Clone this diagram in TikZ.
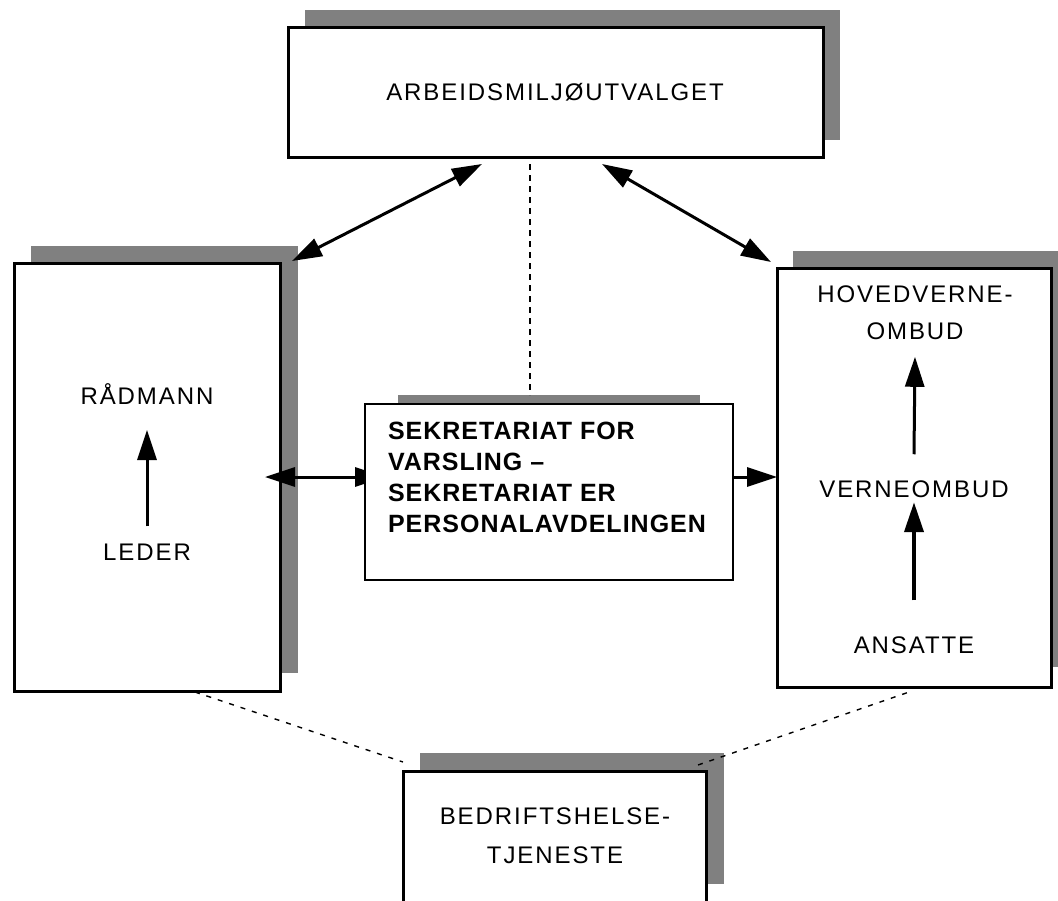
\documentclass[tikz,border=0pt]{standalone}
\usepackage{fontspec}
\setmainfont{Liberation Sans}
\usetikzlibrary{arrows.meta}
\definecolor{shadowgray}{RGB}{128,128,128}
\pgfdeclarelayer{boxlayer}
\pgfsetlayers{main,boxlayer}
\begin{document}
\begin{tikzpicture}[x=1pt,y=-1pt,
  shadowfill/.style={fill=shadowgray},
  box/.style={draw=black, fill=white, line width=3pt, rectangle, outer sep=0pt, inner sep=0pt},
  thinbox/.style={box, line width=1.5pt},
  lbl/.style={inner sep=0pt, outer sep=0pt, font=\fontsize{24}{28}\selectfont\addfontfeatures{LetterSpace=8}},
  boldlbl/.style={inner sep=0pt, outer sep=0pt, align=left, font=\fontsize{25}{31}\selectfont\bfseries\addfontfeatures{LetterSpace=4}},
  conn/.style={line width=3pt, >={Triangle[length=30pt,width=19pt]}},
  thickconn/.style={line width=4pt, >={Triangle[length=30pt,width=19pt]}},
  dashline/.style={line width=1.4pt, dash pattern=on 5pt off 7pt},
  vdash/.style={line width=1.2pt, dash pattern=on 6pt off 5pt}]
\useasboundingbox (0,0) rectangle (1058,900);
\clip (0,0) rectangle (1058,900);
% shadows
\fill[shadowfill] (305,10) rectangle (840,140);
\fill[shadowfill] (31,246) rectangle (298,673);
\fill[shadowfill] (793,251) rectangle (1068,667);
\fill[shadowfill] (398,395) rectangle (700,570);
\fill[shadowfill] (420,753) rectangle (724,884);
% boxes
\node[box, minimum width=535pt, minimum height=130pt] (top) at (555.5,92) {};
\node[box, minimum width=266pt, minimum height=428pt] (left) at (147,477) {};
\node[box, minimum width=274pt, minimum height=419pt] (right) at (914,477.5) {};
\node[box, minimum width=303pt, minimum height=139pt] (bottom) at (554.5,840.5) {};
\begin{pgfonlayer}{boxlayer}
\node[thinbox, minimum width=368pt, minimum height=176pt] (mid) at (549,492) {};
\node[boldlbl, anchor=north west] (sek) at (388,422) {SEKRETARIAT FOR\\VARSLING –\\SEKRETARIAT ER\\PERSONALAVDELINGEN};
\end{pgfonlayer}
% connectors
\draw[conn,<->] ([xshift=-73.5pt,yshift=-7pt]top.south) -- ([xshift=12pt,yshift=2pt]left.north east);
\draw[conn,<->] ([xshift=46.5pt,yshift=-7pt]top.south) -- ([xshift=-6pt,yshift=6pt]right.north west);
\draw[vdash] ([xshift=-25.5pt,yshift=-7pt]top.south) -- ([xshift=-19pt,yshift=9pt]mid.north);
\draw[conn,<->] ([xshift=-15pt]left.east) -- ([xshift=20pt,yshift=15pt]mid.west);
\draw[conn,->] ([yshift=15pt]mid.east) -- ([yshift=15pt]mid.east -| right.west);
\draw[dashline] ([xshift=48pt,yshift=-1pt]left.south) -- ([yshift=9pt]bottom.north west);
\draw[dashline] ([xshift=-8pt,yshift=6pt]bottom.north east) -- ([xshift=-2pt,yshift=-4pt]right.south);
% labels
\node[lbl, anchor=base] (arb) at (555,100) {ARBEIDSMILJØUTVALGET};
\node[lbl, anchor=base] (radmann) at (147,404) {RÅDMANN};
\node[lbl, anchor=base] (leder) at (147,560) {LEDER};
\node[lbl, anchor=north, align=center, font=\fontsize{24}{37}\selectfont\addfontfeatures{LetterSpace=8}] (hoved) at (915,285.8) {HOVEDVERNE-\\OMBUD};
\node[lbl, anchor=base] (verne) at (914,497) {VERNEOMBUD};
\node[lbl, anchor=base] (ansatte) at (914,653) {ANSATTE};
\node[lbl, anchor=north, align=center, font=\fontsize{24}{39}\selectfont\addfontfeatures{LetterSpace=8}] (bht) at (555,807.8) {BEDRIFTSHELSE-\\TJENESTE};
% internal arrows
\draw[conn,->] ([yshift=17pt]leder.north) -- ([yshift=-26pt]radmann.south);
\draw[conn,->] ([yshift=26pt]verne.north) -- ([yshift=-17pt]hoved.south);
\draw[thickconn,->] ([yshift=36pt]ansatte.north) -- ([yshift=-5pt]verne.south);
\end{tikzpicture}
\end{document}
